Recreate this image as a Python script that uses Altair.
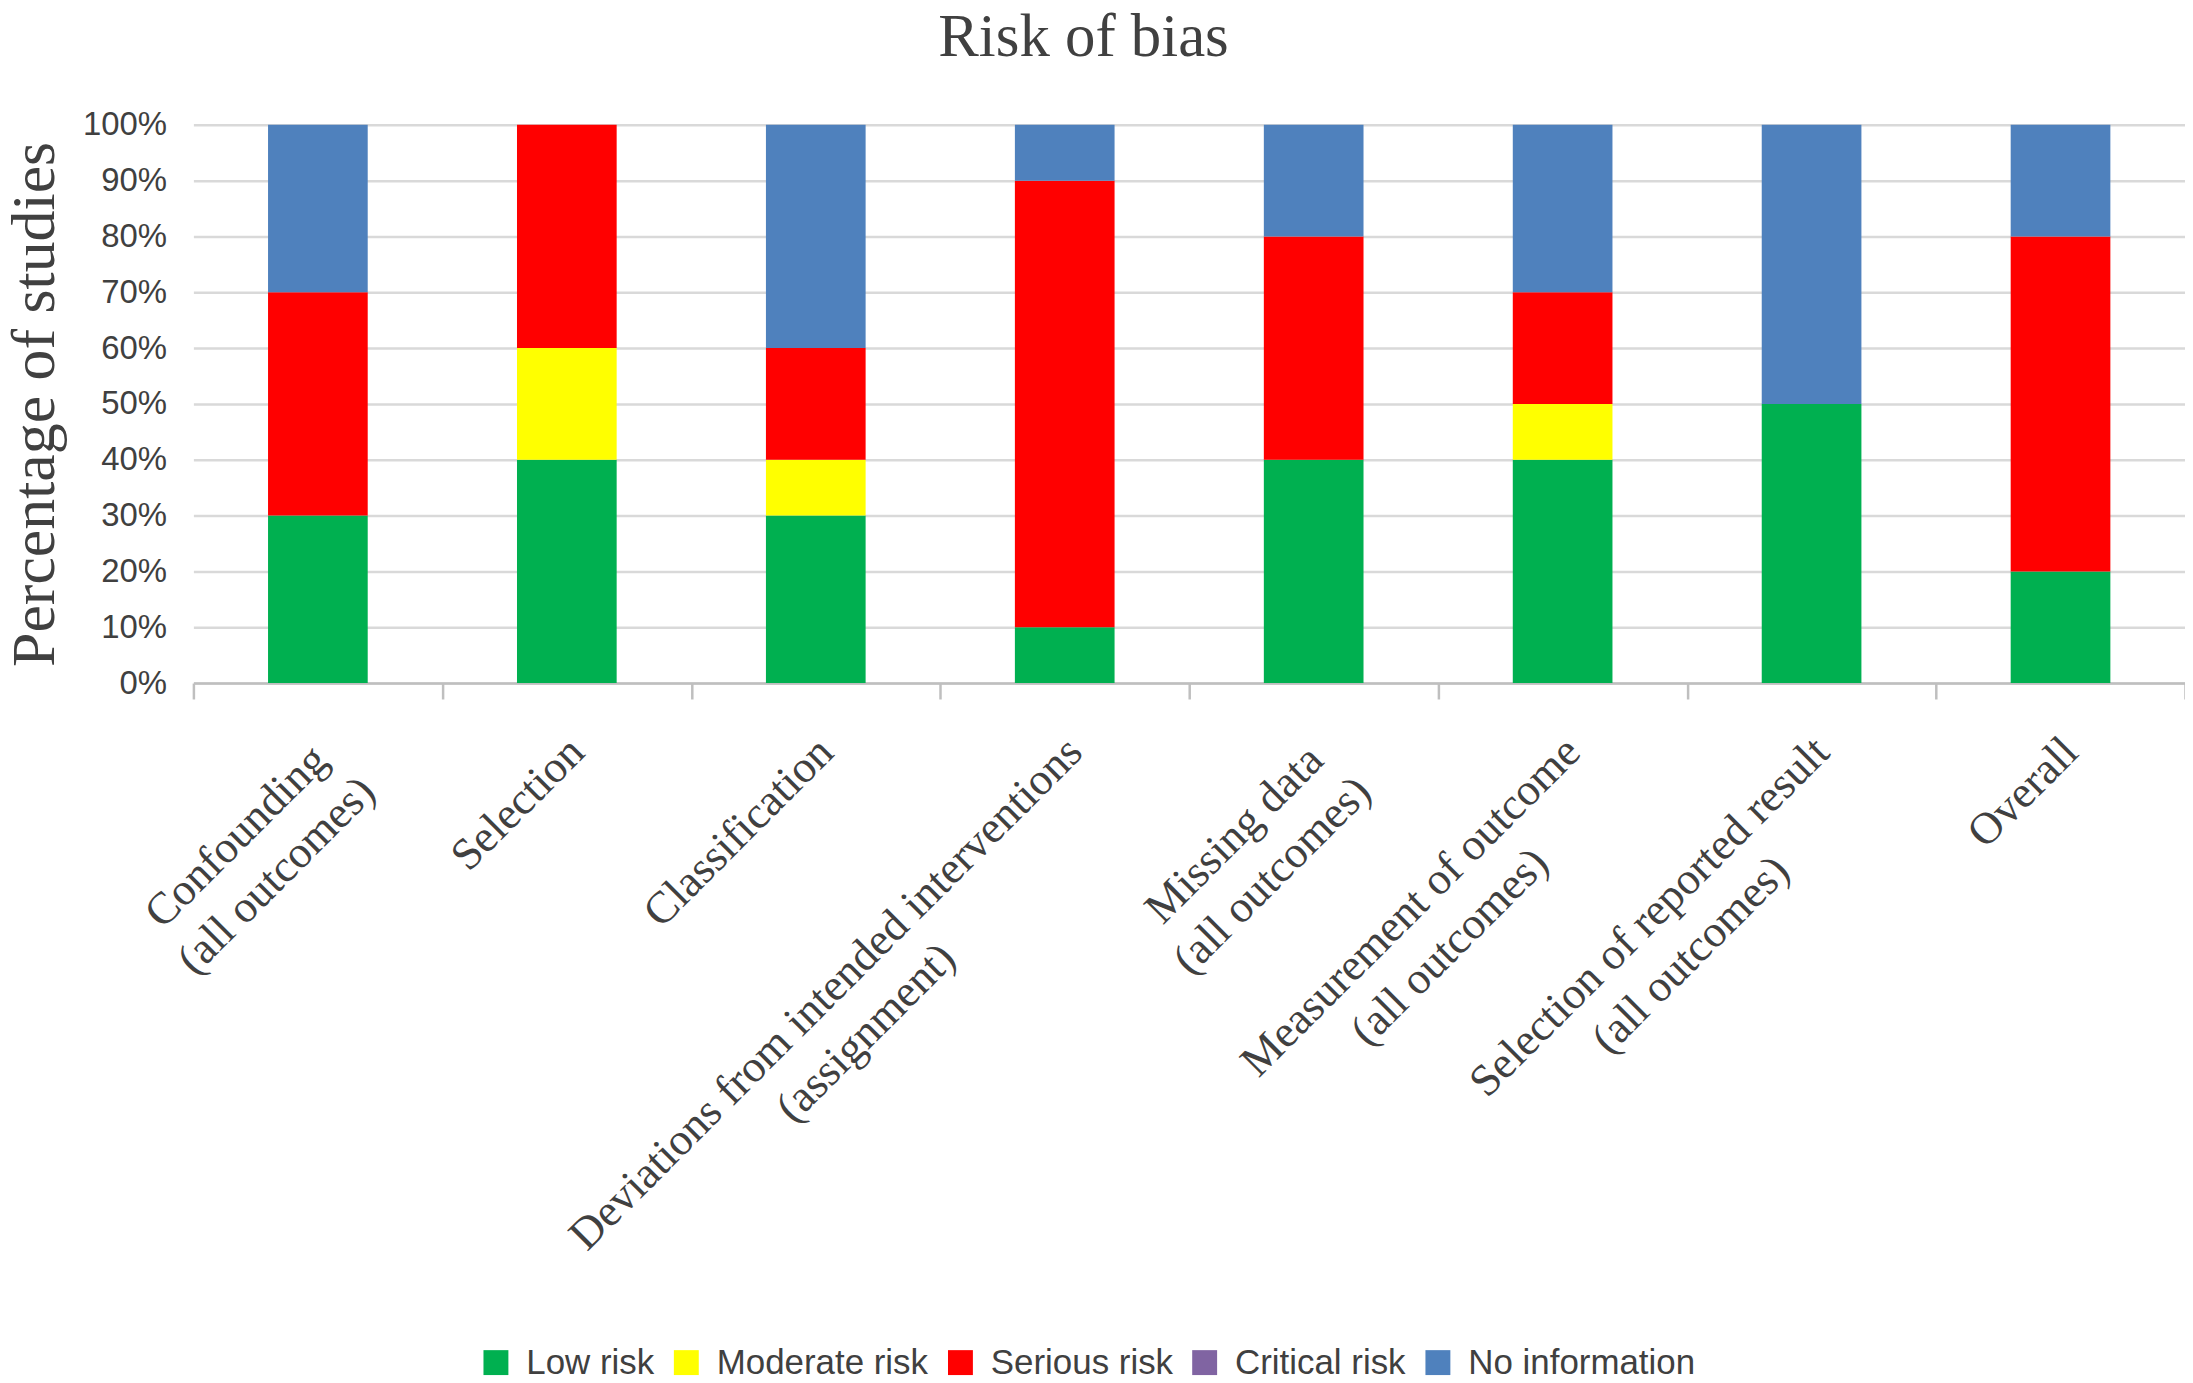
import altair as alt
import pandas as pd

categories = [
    "Confounding\n(all outcomes)",
    "Selection",
    "Classification",
    "Deviations from intended interventions\n(assignment)",
    "Missing data\n(all outcomes)",
    "Measurement of outcome\n(all outcomes)",
    "Selection of reported result\n(all outcomes)",
    "Overall",
]
risk_levels = ["Low risk", "Moderate risk", "Serious risk", "Critical risk", "No information"]
risk_colors = ["#00B050", "#FFFF00", "#FF0000", "#8064A2", "#4F81BD"]

low_risk = [30, 40, 30, 10, 40, 40, 50, 20]
moderate_risk = [0, 20, 10, 0, 0, 10, 0, 0]
serious_risk = [40, 40, 20, 80, 40, 20, 0, 60]
critical_risk = [0, 0, 0, 0, 0, 0, 0, 0]
no_information = [30, 0, 40, 10, 20, 30, 50, 20]

y_tick_values = [0, 0.1, 0.2, 0.3, 0.4, 0.5, 0.6, 0.7, 0.8, 0.9, 1.0]

# approximate Times glyph widths (em) to centre the lines of multi-line labels
TIMES = {'a': .444, 'b': .5, 'c': .444, 'd': .5, 'e': .444, 'f': .333, 'g': .5, 'h': .5,
         'i': .278, 'j': .278, 'k': .5, 'l': .278, 'm': .778, 'n': .5, 'o': .5, 'p': .5,
         'q': .5, 'r': .333, 's': .389, 't': .278, 'u': .5, 'v': .5, 'w': .722, 'x': .5,
         'y': .5, 'z': .444, ' ': .25, '(': .333, ')': .333, 'C': .667, 'D': .722,
         'M': .889, 'O': .722, 'S': .556}
NBSP = "\u00a0"
ZWSP = "\u200b"  # keeps the padding from being trimmed


def centred(label):
    lines = label.split("\n")
    widths = [sum(TIMES.get(ch, .5) for ch in ln) for ln in lines]
    wmax = max(widths)
    out = []
    for ln, w in zip(lines, widths):
        n = int(round((wmax - w) / 2 / 0.25))
        out.append(ln + (NBSP * n + ZWSP if n > 0 else ""))
    return "|".join(out)


labels = [centred(c) for c in categories]
series = [low_risk, moderate_risk, serious_risk, critical_risk, no_information]

rows = []
for i, lab in enumerate(labels):
    for k, risk in enumerate(risk_levels):
        v = series[k][i]
        if v > 0:
            rows.append({"label": lab, "risk": risk, "risk_idx": k, "share": v / 100.0})
df = pd.DataFrame(rows)

W, H = 1998, 560

chart = alt.Chart(df).mark_bar(size=100).encode(
    x=alt.X(
        "label:N",
        sort=labels,
        scale=alt.Scale(paddingInner=0, paddingOuter=0),
        axis=alt.Axis(
            title=None,
            labelExpr="split(datum.label, '|')",
            labelAngle=-45,
            labelAlign="right",
            labelBaseline="top",
            labelFont="Liberation Serif",
            labelFontSize=45,
            labelColor="#404040",
            labelLineHeight=56,
            labelPadding=30,
            labelOffset=-6,
            labelLimit=0,
            labelOverlap=False,
            tickBand="extent",
            ticks=True,
            tickSize=16,
            tickColor="#BFBFBF",
            tickWidth=2.5,
            domainColor="#BFBFBF",
            domainWidth=2.5,
            grid=False,
        ),
    ),
    y=alt.Y(
        "share:Q",
        stack="zero",
        scale=alt.Scale(domain=[0, 1]),
        axis=alt.Axis(
            title="Percentage of studies",
            titleFont="Liberation Serif",
            titleFontSize=62,
            titleFontWeight="normal",
            titleColor="#404040",
            titleAngle=270,
            titleAlign="center",
            titleBaseline="alphabetic",
            titleX=-140,
            titleY=H / 2,
            values=y_tick_values,
            format=".0%",
            labelFont="Liberation Sans",
            labelFontSize=33,
            labelColor="#404040",
            labelPadding=27,
            ticks=False,
            domain=False,
            grid=True,
            gridColor="#D9D9D9",
            gridWidth=2.5,
        ),
    ),
    color=alt.Color(
        "risk:N",
        scale=alt.Scale(domain=risk_levels, range=risk_colors),
        legend=alt.Legend(
            title=None,
            orient="none",
            legendX=286,
            legendY=1224,
            direction="horizontal",
            symbolType="square",
            symbolSize=625,
            symbolStrokeWidth=0,
            symbolOpacity=1,
            labelFont="Liberation Sans",
            labelFontSize=35,
            labelColor="#404040",
            labelOffset=13,
            columnPadding=14,
            labelLimit=0,
        ),
    ),
    order=alt.Order("risk_idx:Q", sort="ascending"),
).properties(
    width=W,
    height=H,
    title=alt.TitleParams(
        "Risk of bias",
        font="Liberation Serif",
        fontSize=61,
        fontWeight="normal",
        color="#404040",
        anchor="middle",
        dx=-106,
        offset=40,
    ),
    autosize=alt.AutoSizeParams(type="none"),
    padding={"left": 186, "top": 115, "right": 0, "bottom": 700},
).configure_view(stroke=None)

chart.save("out.html", embed_options={"renderer": "svg", "actions": False})
